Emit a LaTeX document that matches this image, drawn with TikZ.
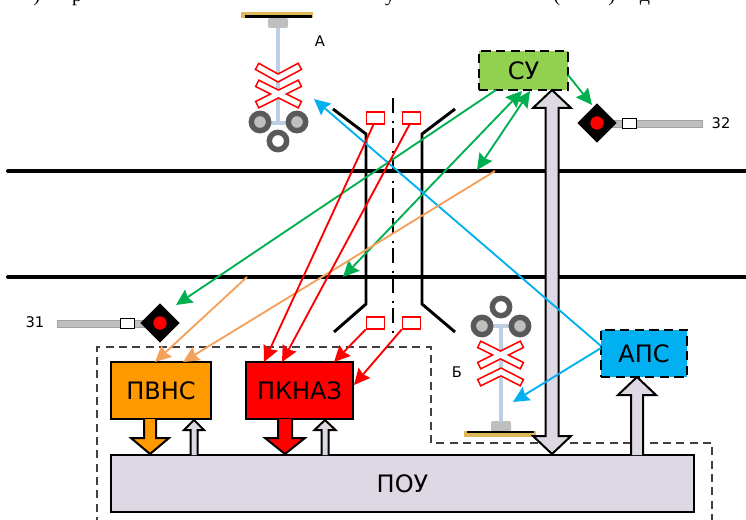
\documentclass[tikz,border=0pt]{standalone}
\usepackage{fontspec}
\setmainfont{DejaVu Sans}
\newfontfamily\topfont{Liberation Serif}
\usetikzlibrary{arrows.meta,calc,shapes.geometric}
\definecolor{lav}{HTML}{DDD8E4}
\definecolor{sugreen}{HTML}{92D050}
\definecolor{lgreen}{HTML}{00B050}
\definecolor{lblue}{HTML}{00B0F0}
\definecolor{lorange}{HTML}{F4A15C}
\definecolor{pvns}{HTML}{FF9900}
\definecolor{poleblue}{HTML}{BDD0E3}
\definecolor{ringgray}{HTML}{595959}
\definecolor{lightgray2}{HTML}{BFBFBF}
\definecolor{gold}{HTML}{DDB95A}
\tikzset{
  mainbox/.style={draw=black,line width=1.4pt,minimum height=42.75pt,inner sep=0pt,font=\fontsize{18}{20}\selectfont},
  dashbox/.style={mainbox,dashed,dash pattern=on 7pt off 4pt},
  small/.style={font=\fontsize{11}{13}\selectfont,inner sep=0pt},
  thin arrow/.style={line width=1.4pt,-{Stealth[length=12pt,width=11.5pt,inset=1.5pt]}},
  both arrow/.style={line width=1.4pt,{Stealth[length=12pt,width=11.5pt,inset=1.5pt]}-{Stealth[length=12pt,width=11.5pt,inset=1.5pt]}},
  sensor/.style={draw=red,fill=white,line width=1.3pt,minimum width=13.5pt,minimum height=8.5pt,inner sep=0pt},
  track/.style={line width=3pt,line cap=round},
  bridge/.style={line width=2.2pt},
  lampring/.style={draw=ringgray,line width=4.1pt,circle,minimum size=13pt,inner sep=0pt},
  blockline/.style={draw=black,line width=1.5pt,line join=miter},
  pole/.style={draw=poleblue,line width=3pt},
  signalhead/.style={diamond,fill=black,minimum size=29.5pt,inner sep=0pt},
  redlamp/.style={circle,fill=red,minimum size=10pt,inner sep=0pt},
  signalbar/.style={draw=lightgray2!85!black,fill=lightgray2,line width=.6pt},
  whitetab/.style={draw=black,fill=white,line width=.8pt,minimum width=11pt,minimum height=8pt,inner sep=0pt},
  cutoff/.style={font=\topfont\fontsize{15}{17}\selectfont,anchor=base,inner sep=0pt},
  xred/.style={red,line width=6.4pt,line join=miter},
  xwhite/.style={white,line width=3.9pt,line join=miter,shorten <=1.2pt,shorten >=1.2pt}
}
% tail, tip, half shaft, half head, head length, fill (px)
\newcommand{\blockarrow}[6]{%
  \draw[blockline,fill=#6] let \p1=(#1),\p2=(#2),\n1={\y2>\y1?1:-1} in
    (\x1-#3*.75pt,\y1) -- (\x2-#3*.75pt,\y2-\n1*#5*.75pt) -- (\x2-#4*.75pt,\y2-\n1*#5*.75pt) --
    (\x2,\y2) -- (\x2+#4*.75pt,\y2-\n1*#5*.75pt) -- (\x2+#3*.75pt,\y2-\n1*#5*.75pt) -- (\x1+#3*.75pt,\y1);}
\newcommand{\blockboth}[6]{%
  \draw[blockline,fill=#6] let \p1=(#1),\p2=(#2) in
    (\x1,\y1) -- (\x1+#4*.75pt,\y1+#5*.75pt) -- (\x1+#3*.75pt,\y1+#5*.75pt) --
    (\x2+#3*.75pt,\y2-#5*.75pt) -- (\x2+#4*.75pt,\y2-#5*.75pt) -- (\x2,\y2) --
    (\x2-#4*.75pt,\y2-#5*.75pt) -- (\x2-#3*.75pt,\y2-#5*.75pt) --
    (\x1-#3*.75pt,\y1+#5*.75pt) -- (\x1-#4*.75pt,\y1+#5*.75pt) -- cycle;}
% chevron and cross: red outline, then white inside
\newcommand{\crossmark}[3]{%
  \draw[xred] #1; \draw[xred] #2; \draw[xred] #3;
  \draw[xwhite] #1; \draw[xwhite] #2; \draw[xwhite] #3;}
\begin{document}
\begin{tikzpicture}[x=.75pt,y=-.75pt]
\useasboundingbox (0,0) rectangle (746,520);
\clip (0,0) rectangle (746,520);
% cut-off line of text at the top
\node[cutoff] (t1) at (37,1.5) {)};
\node[cutoff] (t2) at (77,1.5) {р};
\node[cutoff] (t3) at (390,1.5) {у};
\node[cutoff] (t4) at (557,1.5) {(};
\node[cutoff] (t5) at (612,1.5) {)};
\node[cutoff] (t6) at (645,1.5) {д};
% tracks
\draw[track] (8,171) -- (760,171);
\draw[track] (8,277) -- (760,277);
% bridge
\draw[bridge] (333,109) -- (366,134) -- (366,304) -- (334,332);
\draw[bridge] (455,109) -- (422,134) -- (422,304) -- (455,332);
\draw[line width=1.3pt,dash pattern=on 11pt off 6pt on 1.5pt off 4pt] (393,98) -- (393,338);
% dashed frame
\draw[draw=black!75,line width=.9pt,dash pattern=on 6pt off 4pt] (97,525) -- (97,347) -- (431,347) -- (431,443) -- (712,443) -- (712,525);
% crossing signal A
\fill[lightgray2,rounded corners=1.5pt] (268,18) rectangle (288,28);
\fill[gold] (241,12) rectangle (313,18);
\fill[black] (245,15) rectangle (312,18);
\draw[pole] (278,28) -- (278,125);
\draw[pole] (260,123) -- (297,123);
\crossmark{(256.5,66) -- (278,78) -- (300.5,66)}{(256.5,83) -- (300.5,105)}{(300.5,83) -- (256.5,105)}
\node[lampring,fill=lightgray2] (a1) at (260,122) {};
\node[lampring,fill=lightgray2] (a2) at (297,122) {};
\node[lampring,fill=white] (a3) at (278,141) {};
\node[small] (la) at (320,41) {А};
% crossing signal B
\fill[lightgray2,rounded corners=1.5pt] (491,421) rectangle (511,432);
\fill[gold] (464,431) rectangle (536,437);
\fill[black] (467,431) rectangle (534,433);
\draw[pole] (501,326) -- (501,422);
\draw[pole] (482,326) -- (520,326);
\crossmark{(478.5,344) -- (522.5,366)}{(522.5,344) -- (478.5,366)}{(478.5,383) -- (501,372) -- (522.5,383)}
\node[lampring,fill=lightgray2] (b1) at (482,326) {};
\node[lampring,fill=lightgray2] (b2) at (520,326) {};
\node[lampring,fill=white] (b3) at (501,307) {};
\node[small] (lb) at (457,372) {Б};
% signal 32
\draw[signalbar] (610,120) rectangle (702,127);
\node[whitetab] (w32) at (629.5,123.5) {};
\node[signalhead] (s32) at (597,123) {};
\node[redlamp] at (s32) {};
\node[small] (l32) at (721,123) {32};
% signal 31
\draw[signalbar] (57,320) rectangle (150,327);
\node[whitetab] (w31) at (127.5,323.5) {};
\node[signalhead] (s31) at (160,323) {};
\node[redlamp] at (s31) {};
\node[small] (l31) at (35,322) {31};
% boxes
\node[dashbox,fill=sugreen,minimum width=66.75pt,minimum height=29.25pt] (su) at (523.5,70.5) {СУ};
\node[dashbox,fill=lblue,minimum width=64.5pt,minimum height=35.25pt] (aps) at (644,353.5) {АПС};
\node[mainbox,fill=lav,minimum width=437.25pt] (pou) at (402.5,483.5) {ПОУ};
\node[mainbox,fill=pvns,minimum width=75pt] (pv) at (161,390.5) {ПВНС};
\node[mainbox,fill=red,minimum width=80.25pt] (pk) at (299.5,390.5) {ПКНАЗ};
% sensors
\node[sensor] (r1) at (375.5,118) {};
\node[sensor] (r2) at (411.5,118) {};
\node[sensor] (r3) at (375.5,323) {};
\node[sensor] (r4) at (411.5,323) {};
% block arrows
\coordinate (pvd1) at (150,419); \coordinate (pvd2) at (150,454);
\coordinate (pvu1) at (194,455); \coordinate (pvu2) at (194,420);
\coordinate (pkd1) at (285,419); \coordinate (pkd2) at (285,454);
\coordinate (pku1) at (325,455); \coordinate (pku2) at (325,420);
\coordinate (du1) at (552,454); \coordinate (du2) at (552,90);
\coordinate (ap1) at (637,455); \coordinate (ap2) at (637,377);
\blockarrow{pvd1}{pvd2}{6}{19}{16}{pvns}
\blockarrow{pvu1}{pvu2}{3.5}{10}{10}{lav}
\blockarrow{pkd1}{pkd2}{7}{20}{16}{red}
\blockarrow{pku1}{pku2}{3.5}{10.5}{10}{lav}
\blockarrow{ap1}{ap2}{6}{19}{18}{lav}
\blockboth{du1}{du2}{6.5}{19}{18}{lav}
% free ends of the thin connectors
\coordinate (gs1) at (496,90);
\coordinate (gt1) at (176,305);
\coordinate (g2a) at (522,91);
\coordinate (g2b) at (343,277);
\coordinate (g3a) at (530,91);
\coordinate (g3b) at (477,170);
\coordinate (g4a) at (568,75);
\coordinate (g4b) at (592,105);
\coordinate (bs1) at (601,346);
\coordinate (bt1) at (314,99);
\coordinate (bs2) at (601,348);
\coordinate (bt2) at (513,402);
\coordinate (os1) at (495,171);
\coordinate (ot1) at (183,362);
\coordinate (os2) at (247,277);
\coordinate (ot2) at (155,362);
\coordinate (rt1) at (264,362);
\coordinate (rt2) at (282,362);
\coordinate (rt3) at (334,362);
\coordinate (rt4) at (354,385);
% thin connectors
\draw[thin arrow,lgreen] (gs1) -- (gt1);
\draw[both arrow,lgreen] (g2a) -- (g2b);
\draw[both arrow,lgreen] (g3a) -- (g3b);
\draw[thin arrow,lgreen] (g4a) -- (g4b);
\draw[thin arrow,lblue] (bs1) -- (bt1);
\draw[thin arrow,lblue] (bs2) -- (bt2);
\draw[thin arrow,lorange] (os1) -- (ot1);
\draw[thin arrow,lorange] (os2) -- (ot2);
\draw[thin arrow,red] (r1.south) ++(-2,0) -- (rt1);
\draw[thin arrow,red] (r2.south) ++(-2,0) -- (rt2);
\draw[thin arrow,red] (r3.south west) -- (rt3);
\draw[thin arrow,red] (r4.south west) -- (rt4);
\end{tikzpicture}
\end{document}
